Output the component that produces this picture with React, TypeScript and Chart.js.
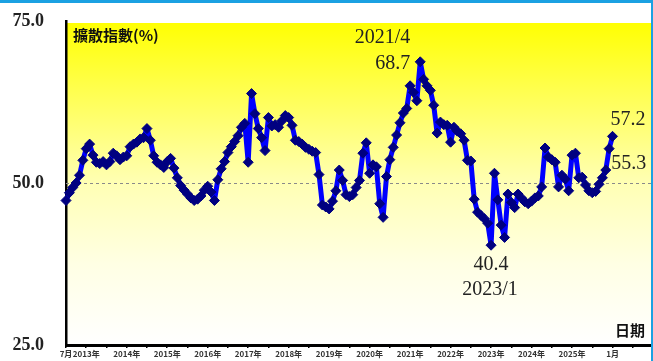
import React, { useEffect, useRef } from "react";
import { Chart, registerables } from "chart.js";

Chart.register(...registerables);

// Monthly diffusion index (%), starting July 2012
const START_YEAR = 2012;
const START_MONTH = 7;

const v2012 = [47.3, 48.5, 49.3, 50.0, 51.2, 53.5];
const v2013 = [55.3, 56.0, 54.3, 53.2, 53.0, 53.3, 52.8, 53.3, 54.6, 54.2, 53.6, 54.0];
const v2014 = [54.2, 55.6, 56.0, 56.3, 56.8, 57.0, 58.4, 56.6, 54.2, 53.2, 52.8, 52.4];
const v2015 = [53.3, 53.8, 52.3, 50.8, 49.6, 48.9, 48.3, 47.7, 47.3, 47.5, 48.0, 48.9];
const v2016 = [49.5, 48.6, 47.3, 50.5, 52.2, 53.3, 54.7, 55.6, 56.4, 57.3, 58.6, 59.2];
const v2017 = [53.2, 63.8, 60.7, 58.4, 57.0, 55.0, 60.1, 58.8, 59.0, 58.6, 59.6, 60.4];
const v2018 = [60.1, 58.9, 56.6, 56.4, 56.0, 55.5, 55.2, 54.9, 54.7, 51.3, 46.6, 46.3];
const v2019 = [46.0, 47.2, 48.8, 52.0, 50.4, 48.2, 47.9, 48.2, 49.3, 50.4, 54.6, 56.2];
const v2020 = [51.5, 52.8, 52.5, 46.8, 44.7, 51.0, 53.6, 55.5, 57.4, 59.3, 60.8, 61.5];
const v2021 = [65.0, 64.0, 62.7, 68.7, 66.0, 65.0, 64.3, 62.0, 57.7, 59.4, 59.0, 58.9];
const v2022 = [56.3, 58.6, 58.0, 57.6, 56.6, 53.5, 53.4, 47.5, 45.5, 45.0, 44.5, 43.8];
const v2023 = [40.4, 51.5, 47.4, 43.5, 41.6, 48.3, 47.0, 46.2, 48.3, 47.7, 47.1, 46.8];
const v2024 = [47.2, 47.7, 48.0, 49.4, 55.4, 54.0, 53.6, 53.2, 49.4, 51.2, 50.6, 48.8];
const v2025 = [54.3, 54.6, 50.8, 50.9, 49.7, 48.8, 48.5, 48.7, 49.8, 50.8, 52.0, 55.3];
const v2026 = [57.2];

const values = [
  ...v2012, ...v2013, ...v2014, ...v2015, ...v2016, ...v2017, ...v2018,
  ...v2019, ...v2020, ...v2021, ...v2022, ...v2023, ...v2024, ...v2025, ...v2026,
];

const yTicks = [25, 50, 75];
const BASELINE = 50;
const X_MAX = 174; // axis runs a little past the last month
const TICK_STEP = 6; // tick mark every half year

const TITLE = "擴散指數(%)";
const X_TITLE = "日期";

function monthOf(i: number) {
  const m = START_MONTH - 1 + i;
  return { year: START_YEAR + Math.floor(m / 12), month: (m % 12) + 1 };
}

function tickLabel(i: number) {
  const { year, month } = monthOf(i);
  if (i === 0 || i === values.length - 1) return `${month}月`;
  if (i < values.length && month === 1) return `${year}年`;
  return "";
}

const SERIF = '"Liberation Serif", "Times New Roman", serif';
const CJK = '"Noto Sans CJK TC", "Noto Sans", sans-serif';

const decorPlugin = {
  id: "decor",
  beforeDraw(chart: any) {
    const { ctx, chartArea: a } = chart;
    const g = ctx.createLinearGradient(0, a.top, 0, a.bottom);
    g.addColorStop(0, "#FFFF00");
    g.addColorStop(0.2, "#FFFF4A");
    g.addColorStop(0.5, "#FFFFB4");
    g.addColorStop(0.75, "#FFFFE4");
    g.addColorStop(1, "#FFFFFF");
    ctx.save();
    ctx.fillStyle = g;
    ctx.fillRect(a.left, a.top + 2, a.right - a.left, a.bottom - a.top - 2);
    ctx.restore();
  },
  beforeDatasetsDraw(chart: any) {
    const { ctx, chartArea: a, scales } = chart;
    const y = Math.round(scales.y.getPixelForValue(BASELINE)) + 0.5;
    ctx.save();
    ctx.strokeStyle = "#8a8a8a";
    ctx.lineWidth = 1;
    ctx.setLineDash([3, 3]);
    ctx.beginPath();
    ctx.moveTo(a.left, y);
    ctx.lineTo(a.right, y);
    ctx.stroke();
    ctx.restore();
  },
  afterDatasetsDraw(chart: any) {
    const { ctx, chartArea: a, scales } = chart;
    const px = (i: number) => scales.x.getPixelForValue(i);
    const py = (v: number) => scales.y.getPixelForValue(v);

    let hi = 0;
    let lo = 0;
    values.forEach((v, i) => {
      if (v > values[hi]) hi = i;
      if (v < values[lo]) lo = i;
    });
    const last = values.length - 1;
    const prev = last - 1;
    const fmt = (i: number) => {
      const { year, month } = monthOf(i);
      return `${year}/${month}`;
    };

    ctx.save();
    ctx.fillStyle = "#222";
    ctx.font = `20px ${SERIF}`;
    ctx.textBaseline = "middle";

    ctx.textAlign = "right";
    ctx.fillText(fmt(hi), px(hi) - 10, py(values[hi]) - 24);
    ctx.fillText(values[hi].toFixed(1), px(hi) - 10, py(values[hi]) + 2);

    ctx.textAlign = "center";
    ctx.fillText(values[lo].toFixed(1), px(lo), py(values[lo]) + 20);
    ctx.fillText(fmt(lo), px(lo) - 1, py(values[lo]) + 45);

    ctx.textAlign = "left";
    ctx.fillText(values[last].toFixed(1), px(last) - 2, py(values[last]) - 17);
    ctx.fillText(values[prev].toFixed(1), px(prev) + 2, py(values[prev]) + 15);

    ctx.fillStyle = "#111";
    ctx.font = `bold 15px ${CJK}`;
    ctx.textAlign = "left";
    ctx.fillText(TITLE, a.left + 7, a.top + 14);

    ctx.font = `bold 15px ${CJK}`;
    ctx.textAlign = "right";
    ctx.fillText(X_TITLE, a.right - 8, a.bottom - 15);
    ctx.restore();
  },
};

export default function App() {
  const ref = useRef<HTMLCanvasElement | null>(null);

  useEffect(() => {
    if (!ref.current) return;
    const chart = new Chart(ref.current, {
      type: "line",
      data: {
        datasets: [
          {
            data: values.map((v, i) => ({ x: i, y: v })),
            borderColor: "#0000FF",
            borderWidth: 5,
            borderJoinStyle: "round",
            borderCapStyle: "round",
            pointStyle: "rectRot",
            pointRadius: 5,
            pointBackgroundColor: "#000080",
            pointBorderColor: "#000080",
            pointBorderWidth: 1,
            tension: 0,
            clip: false,
          } as any,
        ],
      },
      options: {
        animation: false,
        responsive: false,
        maintainAspectRatio: false,
        layout: { autoPadding: false, padding: { top: 21, right: 0, left: 0, bottom: 0 } },
        plugins: { legend: { display: false }, tooltip: { enabled: false } },
        scales: {
          x: {
            type: "linear",
            min: 0,
            max: X_MAX,
            afterBuildTicks: (s: any) => {
              const t = [];
              for (let v = 0; v <= X_MAX; v += TICK_STEP) t.push({ value: v });
              s.ticks = t;
            },
            afterFit: (s: any) => {
              s.height = 16;
              s.paddingLeft = 0;
              s.paddingRight = 0;
            },
            grid: {
              display: true,
              drawOnChartArea: false,
              drawTicks: true,
              tickLength: 3,
              color: "#000",
              lineWidth: 1.5,
            },
            border: { display: true, color: "#000", width: 3 },
            ticks: {
              autoSkip: false,
              maxRotation: 0,
              minRotation: 0,
              padding: 1,
              color: "#333",
              font: { size: 8, family: CJK, weight: "bold" },
              callback: (v: any) => tickLabel(Number(v)),
            },
          },
          y: {
            min: 25,
            max: 75,
            afterBuildTicks: (s: any) => {
              s.ticks = yTicks.map((v) => ({ value: v }));
            },
            afterFit: (s: any) => {
              s.width = 66;
              s.paddingTop = 0;
              s.paddingBottom = 0;
            },
            grid: { display: false, drawTicks: false },
            border: { display: true, color: "#000", width: 2.5 },
            ticks: {
              padding: 22,
              color: "#222",
              font: { size: 18, family: SERIF, weight: "bold" },
              callback: (v: any) => Number(v).toFixed(1),
            },
          },
        },
      } as any,
      plugins: [decorPlugin],
    });
    return () => chart.destroy();
  }, []);

  return (
    <div
      style={{
        position: "fixed",
        left: 0,
        top: 0,
        width: 653,
        height: 361,
        background: "#fff",
        overflow: "hidden",
      }}
    >
      <canvas ref={ref} width={653} height={361} style={{ display: "block" }} />
      <div
        style={{
          position: "absolute",
          left: 0,
          top: 0,
          width: 653,
          height: 3,
          background: "#1BA1E2",
        }}
      />
      <div
        style={{
          position: "absolute",
          right: 0,
          top: 0,
          width: 2,
          height: 361,
          background: "#1BA1E2",
        }}
      />
    </div>
  );
}
